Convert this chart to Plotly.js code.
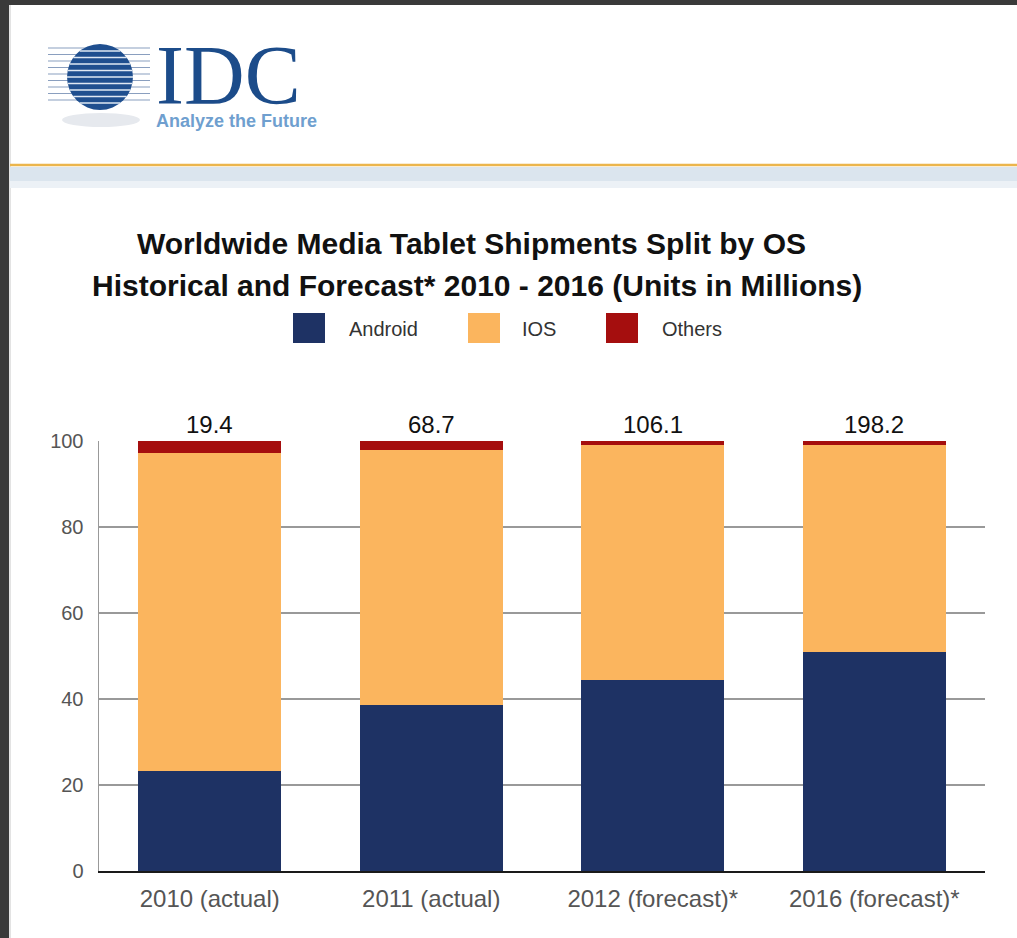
<!DOCTYPE html>
<html><head><meta charset="utf-8">
<script src="https://cdn.plot.ly/plotly-3.0.1.min.js"></script>
<style>html,body{margin:0;padding:0;background:#fff;overflow:hidden}#chart{width:1017px;height:938px}</style>
</head><body><div id="chart"></div>
<script>
// ---- data ----
const categories = ["2010 (actual)", "2011 (actual)", "2012 (forecast)*", "2016 (forecast)*"];
const android = [23.2, 38.7, 44.4, 50.9];
const ios = [74.0, 59.2, 54.7, 48.1];
const others = [2.8, 2.1, 0.9, 1.0];
const totals = ["19.4", "68.7", "106.1", "198.2"];
const seriesNames = ["Android", "IOS", "Others"];
const yTicks = [0, 20, 40, 60, 80, 100];
const titleLines = ["Worldwide Media Tablet Shipments Split by OS", "Historical and Forecast* 2010 - 2016 (Units in Millions)"];

// ---- style ----
const colors = ["#1e3264", "#fbb55e", "#a50e0e"];
const FONT = "Liberation Sans, Arial, sans-serif";
const W = 1017, H = 938;
const M = {l: 99, r: 32, t: 441, b: 67};
const PW = W - M.l - M.r, PH = H - M.t - M.b;
const X = px => (px - M.l) / PW;
const Y = py => (H - M.b - py) / PH;
function rectPx(x0, y0, x1, y1, fill, extra) {
  return Object.assign({type: 'rect', xref: 'paper', yref: 'paper', x0: X(x0), x1: X(x1), y0: Y(y0), y1: Y(y1),
    fillcolor: fill, line: {width: 0}}, extra || {});
}
function linePx(x0, y0, x1, y1, color, width) {
  return {type: 'line', xref: 'paper', yref: 'paper', x0: X(x0), x1: X(x1), y0: Y(y0), y1: Y(y1),
    line: {color: color, width: width}};
}

const seriesValues = [android, ios, others];
const traces = seriesNames.map((n, i) => ({
  type: 'bar', name: n, x: categories, y: seriesValues[i],
  marker: {color: colors[i], line: {width: 0}}, hoverinfo: 'x+y+name'
}));

const shapes = [];
// page frame
shapes.push(rectPx(-5, -5, 1030, 5, '#3a3a3a'));
shapes.push(rectPx(-5, -5, 9, 950, '#3a3a3a'));
shapes.push(linePx(10, 5, 10, 950, '#c8c8c8', 1));
// header rule and band
shapes.push(rectPx(10, 167, 1030, 181, '#dbe5ee'));
shapes.push(rectPx(10, 181, 1030, 188, '#ecf1f6'));
shapes.push(linePx(10, 165, 1030, 165, '#ebb54c', 2.5));
// logo shadow
shapes.push({type: 'circle', xref: 'paper', yref: 'paper', x0: X(62), x1: X(140), y0: Y(113), y1: Y(127),
  fillcolor: '#e6e9ee', line: {width: 0}});
// logo lines
const cx = 100, cy = 77, r = 33;
for (let yy = 48; yy <= 106; yy += 6.5) {
  shapes.push(linePx(48, yy, 150, yy, '#8a9fbf', 1.2));
}
shapes.push({type: 'circle', xref: 'paper', yref: 'paper', x0: X(cx - r), x1: X(cx + r), y0: Y(cy - r), y1: Y(cy + r),
  fillcolor: '#1f4f8f', line: {width: 0}});
for (let yy = 51; yy <= 104; yy += 6.5) {
  const dy = yy - cy;
  if (Math.abs(dy) < r) {
    const hw = Math.sqrt(r * r - dy * dy);
    shapes.push(linePx(cx - hw, yy, cx + hw, yy, '#dfe8f3', 1.5));
  }
}
// legend boxes
const legBoxes = [[293, 325], [468, 500], [606, 638]];
legBoxes.forEach((b, i) => shapes.push(rectPx(b[0], 313, b[1], 343, colors[i])));

const annotations = [];
// logo text (one block: wordmark + tagline)
annotations.push({xref: 'paper', yref: 'paper', x: X(154), y: Y(133), xanchor: 'left', yanchor: 'bottom', align: 'left',
  showarrow: false,
  text: "<span style='font-family:Liberation Serif, Times New Roman, serif;font-size:84px;color:#1c4c8a'>IDC</span><br><b>Analyze the Future</b>",
  font: {family: FONT, size: 18, color: '#6f9fcf'}});
// title line 2
annotations.push({xref: 'paper', yref: 'paper', x: X(477), y: Y(304), xanchor: 'center', yanchor: 'bottom', showarrow: false,
  text: '<b>' + titleLines[1] + '</b>', font: {family: FONT, size: 30, color: '#111'}});
// legend labels
const legLabelX = [347, 520, 660];
seriesNames.forEach((n, i) => annotations.push({xref: 'paper', yref: 'paper', x: X(legLabelX[i]), y: Y(329),
  xanchor: 'left', yanchor: 'middle', showarrow: false, text: n, font: {family: FONT, size: 20, color: '#333'}}));
// totals above bars
categories.forEach((c, i) => annotations.push({xref: 'x', yref: 'y', x: c, y: 100, xanchor: 'center', yanchor: 'bottom',
  yshift: 1, showarrow: false, text: totals[i], font: {family: FONT, size: 24, color: '#111'}}));

const layout = {
  width: W, height: H,
  margin: M,
  paper_bgcolor: '#ffffff', plot_bgcolor: '#ffffff',
  font: {family: FONT},
  title: {text: '<b>' + titleLines[0] + '</b>', x: 471.5 / W, xanchor: 'center', xref: 'container',
    yref: 'container', y: 1 - 254 / H, yanchor: 'bottom', font: {family: FONT, size: 30, color: '#111'}},
  barmode: 'stack', bargap: 0.355,
  showlegend: false,
  xaxis: {type: 'category', showline: true, linecolor: '#1a1a1a', linewidth: 2, ticks: '', showgrid: false,
    tickfont: {family: FONT, size: 24, color: '#555'}, ticklabelstandoff: 5, fixedrange: true},
  yaxis: {range: [0, 100], tickvals: yTicks, ticktext: yTicks.map(String), showline: true, linecolor: '#999', linewidth: 1.5,
    showgrid: true, gridcolor: '#999', gridwidth: 1.5, zeroline: false, ticks: '',
    tickfont: {family: FONT, size: 20, color: '#555'}, ticklabelstandoff: 10, fixedrange: true},
  shapes: shapes,
  annotations: annotations
};
Plotly.newPlot('chart', traces, layout, {displayModeBar: false, staticPlot: true});
</script>
</body></html>
